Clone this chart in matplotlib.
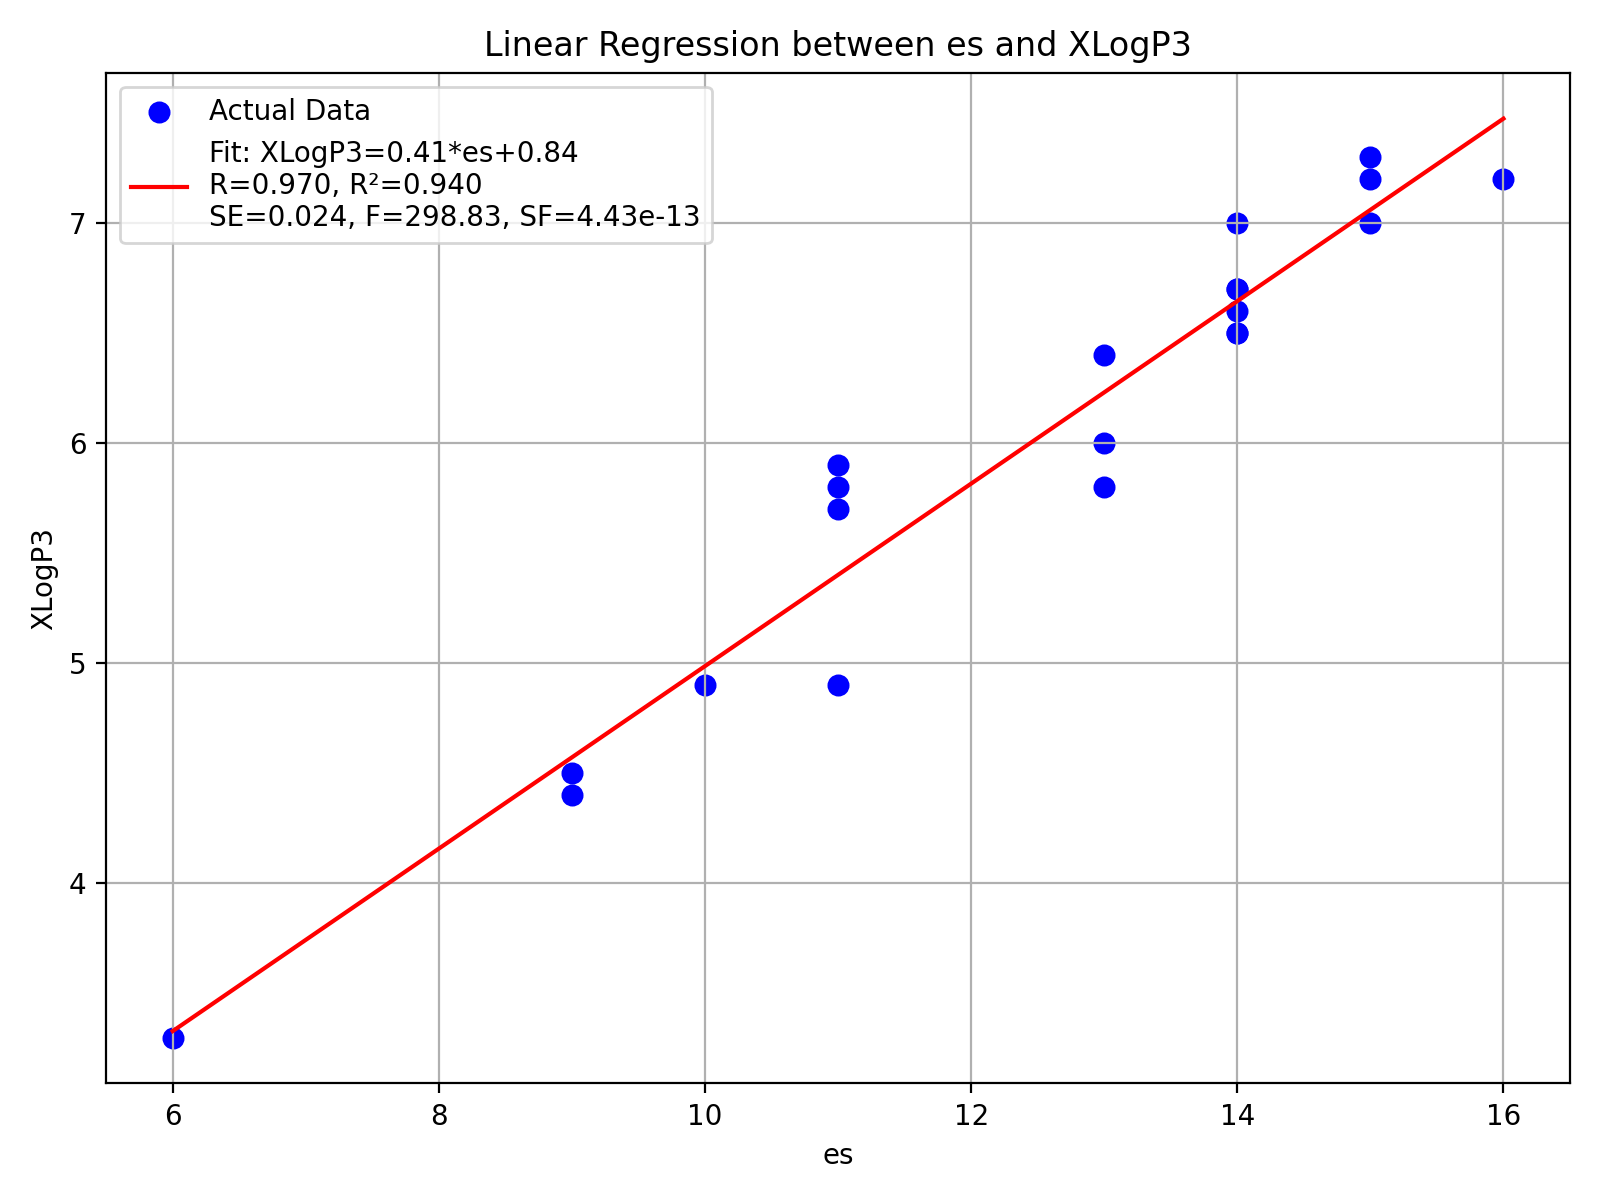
import numpy as np
import matplotlib
matplotlib.use("Agg")
from matplotlib import pyplot as plt

# values (14,6.7 and 14,6.5 appear twice)
es = [6, 9, 9, 10, 11, 11, 11, 11, 13, 13, 13, 14, 14, 14, 14, 14, 14,
      15, 15, 15, 16]
xlogp3 = [3.3, 4.5, 4.4, 4.9, 5.9, 5.8, 5.7, 4.9, 6.4, 6.0, 5.8,
          7.0, 6.7, 6.7, 6.6, 6.5, 6.5, 7.3, 7.2, 7.0, 7.2]

fit_label = ("Fit: XLogP3=0.41*es+0.84\n"
             "R=0.970, R\u00b2=0.940\n"
             "SE=0.024, F=298.83, SF=4.43e-13")

x = np.array(es, dtype=float)
y = np.array(xlogp3)
slope, intercept = np.polyfit(x, y, 1)

fig = plt.figure(figsize=(8, 6), dpi=200)
plt.scatter(x, y, color="blue", s=48, label="Actual Data")
plt.plot(x, slope * x + intercept, color="red", label=fit_label)
plt.title("Linear Regression between es and XLogP3")
plt.xlabel("es")
plt.ylabel("XLogP3")
plt.legend(loc="upper left")
plt.grid(True)
plt.tight_layout()
plt.savefig("out.png")
